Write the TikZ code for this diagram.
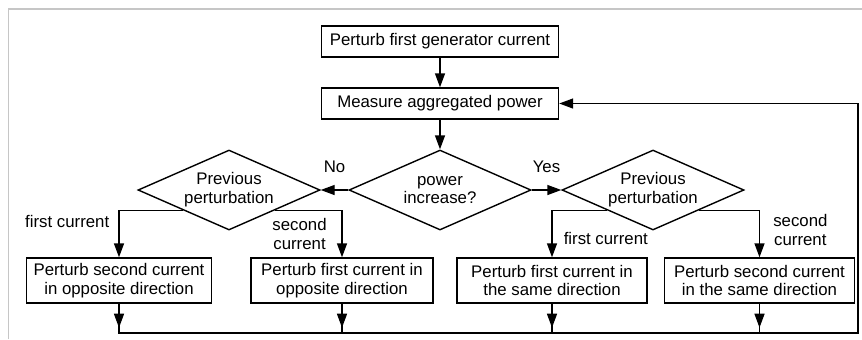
\documentclass[tikz,border=0pt]{standalone}
\usepackage{fontspec}
\setmainfont{Liberation Sans}
\usetikzlibrary{shapes.geometric,arrows.meta}
\tikzset{
  block/.style={draw, line width=0.7pt, align=center, inner sep=0pt},
  decision/.style={draw, diamond, aspect=2.3, line width=0.7pt, align=center, inner sep=0pt,
    minimum width=91pt, minimum height=40pt},
  line/.style={line width=0.7pt},
  arr/.style={line width=0.7pt, -{Triangle[length=7pt,width=5pt]}},
  lbl/.style={align=center}
}
\begin{document}
\begin{tikzpicture}[x=0.5pt,y=-0.5pt,font=\fontsize{8.4}{9.4}\selectfont]
\useasboundingbox (0,0) rectangle (862,339);
% frame
\draw[gray!45, line width=0.9pt] (8.5,339) -- (8.5,9) -- (862,9);

\node[block, minimum width=118.5pt, minimum height=15.5pt] (start) at (440,41.5) {Perturb first generator current};
\node[block, minimum width=118.5pt, minimum height=15.5pt] (measure) at (440,103.5) {Measure aggregated power};

\node[decision] (incr) at (440,190) {power\\increase?};
\node[decision] (prevl) at (229,190) {Previous\\perturbation};
\node[decision] (prevr) at (653,190) {Previous\\perturbation};

\node[block, minimum width=92.5pt, minimum height=22.5pt] (b1) at (119,280.5) {Perturb second current\\in opposite direction};
\node[block, minimum width=91pt, minimum height=22.5pt] (b2) at (342,280.5) {Perturb first current in\\opposite direction};
\node[block, minimum width=95pt, minimum height=22.5pt] (b3) at (552,280.5) {Perturb first current in\\the same direction};
\node[block, minimum width=95pt, minimum height=22.5pt] (b4) at (759.5,280.5) {Perturb second current\\in the same direction};

\coordinate (br) at (858,333);

\draw[arr] (start) -- (measure);
\draw[arr] (measure) -- (incr);
\draw[arr] (incr.west) -- node[above=5pt] {No} (prevl.east);
\draw[arr] (incr.east) -- node[above=5pt] {Yes} (prevr.west);

\draw[arr] (prevl.south west) -| node[pos=0.615, left=1.2pt] {first current} (b1.north);
\draw[arr] (prevl.south east) -| node[pos=0.75, left=4pt, lbl] {second\\current} (b2.north);
\draw[arr] (prevr.south west) -| node[pos=0.8, right=2.2pt] {first current} (b3.north);
\draw[arr] (prevr.south east) -| node[pos=0.71, right=3.2pt, lbl] {second\\current} (b4.north);

% back to the measurement
\draw[arr] (b1.south) |- (br) |- (measure.east);
\foreach \b in {b2,b3,b4}
  \draw[line] (\b.south) -- (\b.south |- br);
\foreach \b in {b1,b2,b3,b4}
  \draw[arr] (\b.south) -- ++(0,24);
\end{tikzpicture}
\end{document}
